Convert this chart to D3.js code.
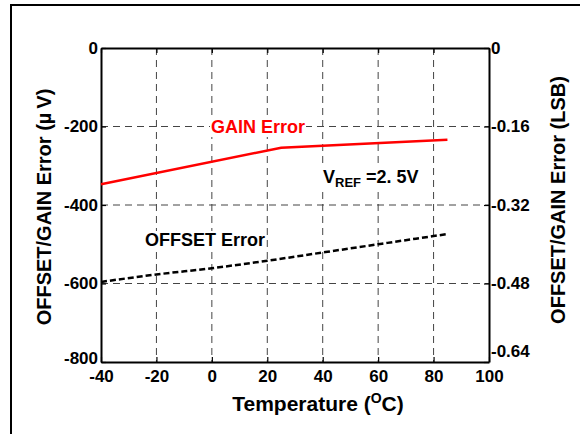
<!DOCTYPE html>
<html>
<head>
<meta charset="utf-8">
<script src="https://cdn.jsdelivr.net/npm/d3@7"></script>
<style>
  html, body { margin: 0; padding: 0; background: #fff; }
  svg { display: block; font-family: "Liberation Sans", Arial, sans-serif; }
</style>
</head>
<body>
<svg id="chart" width="580" height="434"></svg>
<script>
// ---- data ----
const xTicks = [-40, -20, 0, 20, 40, 60, 80, 100];
const yLeftTicks = [0, -200, -400, -600, -800];
const yRightTicks = [0, -0.16, -0.32, -0.48, -0.64];

const gainTemp = [-40, 25, 85];
const gainValues = [-347, -254, -234];

const offsetTemp = [-40, -20, 0, 20, 40, 60, 85];
const offsetValues = [-596, -577, -561, -542, -521, -500, -474];

// ---- layout ----
const svg = d3.select("#chart");
const x = d3.scaleLinear().domain([-40, 100]).range([101, 489]);
const y = d3.scaleLinear().domain([-800, 0]).range([362, 48]);
const yR = d3.scaleLinear().domain([-0.64, 0]).range([362, 48]);

// outer frame
svg.append("line").attr("x1", 11).attr("x2", 580).attr("y1", 5).attr("y2", 5)
  .attr("stroke", "#000").attr("stroke-width", 2);
svg.append("line").attr("x1", 11).attr("x2", 11).attr("y1", 4).attr("y2", 434)
  .attr("stroke", "#000").attr("stroke-width", 2);

// grid
const grid = svg.append("g").attr("stroke", "#444").attr("stroke-width", 1)
  .attr("stroke-dasharray", "7,5");
grid.selectAll(".vg").data(xTicks.slice(1, -1)).enter().append("line")
  .attr("x1", d => x(d)).attr("x2", d => x(d))
  .attr("y1", y(0)).attr("y2", y(-800));
grid.selectAll(".hg").data(yLeftTicks.slice(1, -1)).enter().append("line")
  .attr("x1", x(-40)).attr("x2", x(100))
  .attr("y1", d => y(d)).attr("y2", d => y(d));

// axes
function styleAxis(g) {
  g.selectAll(".domain").attr("stroke", "#000").attr("stroke-width", 2);
  g.selectAll(".tick line").attr("stroke", "#000").attr("stroke-width", 1.2);
  g.selectAll(".tick text").attr("fill", "#000")
    .attr("font-size", 17).attr("font-weight", "bold")
    .attr("font-family", "Liberation Sans, Arial, sans-serif");
}
const fmtInt = d => String(d);
const fmtR = d => d === 0 ? "0" : d.toFixed(2);

svg.append("g").attr("transform", `translate(0,${y(-800)})`)
  .call(d3.axisBottom(x).tickValues(xTicks).tickFormat(fmtInt)
    .tickSizeInner(-5).tickSizeOuter(0).tickPadding(8))
  .call(styleAxis);
svg.append("g").attr("transform", `translate(0,${y(0)})`)
  .call(d3.axisTop(x).tickValues(xTicks).tickFormat("")
    .tickSizeInner(-5).tickSizeOuter(0))
  .call(styleAxis);
svg.append("g").attr("transform", `translate(${x(-40)},0)`)
  .call(d3.axisLeft(y).tickValues(yLeftTicks).tickFormat(fmtInt)
    .tickSizeInner(-5).tickSizeOuter(0).tickPadding(3))
  .call(styleAxis)
  .call(g => g.selectAll(".tick text").filter(d => d === -800).attr("dy", "0.1em"));
svg.append("g").attr("transform", `translate(${x(100)},0)`)
  .call(d3.axisRight(yR).tickValues(yRightTicks).tickFormat(fmtR)
    .tickSizeInner(-5).tickSizeOuter(0).tickPadding(2))
  .call(styleAxis)
  .call(g => g.selectAll(".tick text").filter(d => d === -0.64).attr("dy", "-0.35em"));

// series
const gainData = gainTemp.map((t, i) => [t, gainValues[i]]);
const offsetData = offsetTemp.map((t, i) => [t, offsetValues[i]]);
const line = d3.line().x(d => x(d[0])).y(d => y(d[1]));

svg.append("path").datum(gainData).attr("d", line)
  .attr("fill", "none").attr("stroke", "#ff0000").attr("stroke-width", 2.5);
svg.append("path").datum(offsetData).attr("d", line.curve(d3.curveMonotoneX))
  .attr("fill", "none").attr("stroke", "#000").attr("stroke-width", 2.5)
  .attr("stroke-dasharray", "6,3");

// annotations (with white backing like the reference)
const ann = svg.append("g");
function label(g, xp, yp, color) {
  const bg = g.append("rect").attr("fill", "#fff");
  const t = g.append("text").attr("x", xp).attr("y", yp).attr("fill", color)
    .attr("font-size", 18).attr("font-weight", "bold");
  return {bg, t};
}
const gainL = label(ann.append("g"), 211, 133, "#ff0000");
gainL.t.text("GAIN Error");
const offL = label(ann.append("g"), 145, 246, "#000");
offL.t.text("OFFSET Error");
const vrefL = label(ann.append("g"), 323, 183, "#000");
vrefL.t.append("tspan").text("V");
vrefL.t.append("tspan").attr("font-size", 13).attr("dy", 4).text("REF");
vrefL.t.append("tspan").attr("dy", -4).text(" =2. 5V");
[gainL, offL, vrefL].forEach(l => {
  const b = l.t.node().getBBox();
  l.bg.attr("x", b.x - 1).attr("y", b.y + 1).attr("width", b.width + 2).attr("height", b.height - 1);
});

// axis titles
const xt = svg.append("text").attr("x", 318).attr("y", 411).attr("text-anchor", "middle")
  .attr("font-size", 21).attr("font-weight", "bold").attr("fill", "#000");
xt.append("tspan").text("Temperature (");
xt.append("tspan").attr("font-size", 14).attr("dy", -8).text("O");
xt.append("tspan").attr("dy", 8).text("C)");

svg.append("text").attr("transform", "translate(51,207) rotate(-90)")
  .attr("text-anchor", "middle").attr("font-size", 20).attr("font-weight", "bold")
  .attr("fill", "#000").text("OFFSET/GAIN Error (\u00B5\u2009V)");
svg.append("text").attr("transform", "translate(565,200) rotate(-90)")
  .attr("text-anchor", "middle").attr("font-size", 20).attr("font-weight", "bold")
  .attr("fill", "#000").text("OFFSET/GAIN Error (LSB)");
</script>
</body>
</html>
